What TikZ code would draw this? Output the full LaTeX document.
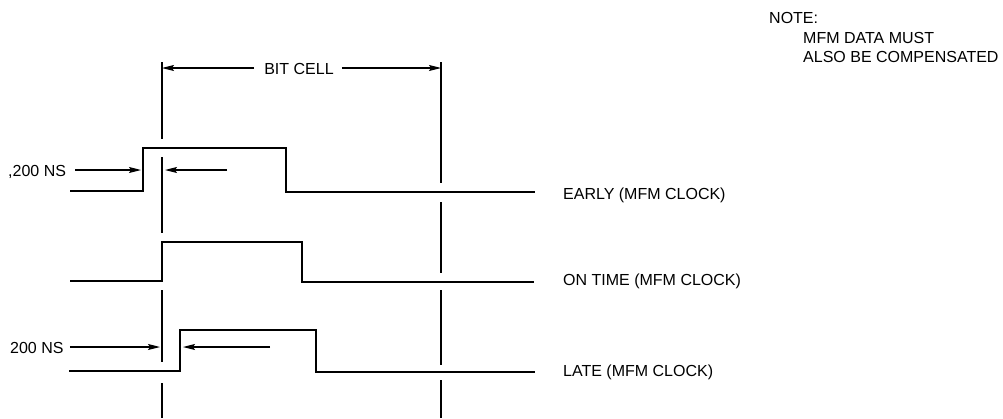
\documentclass[tikz,border=0pt]{standalone}
\usepackage{fontspec}
\setmainfont{Liberation Sans}
\usetikzlibrary{arrows.meta}
\begin{document}
\begin{tikzpicture}[x=1pt,y=-1pt,
  wave/.style={line width=2.6pt, line join=miter},
  guide/.style={line width=1.4pt},
  dim/.style={line width=1.1pt, -{Stealth[length=12pt,width=6pt,inset=2pt]}},
  lbl/.style={font=\fontsize{16}{18}\selectfont, inner sep=0pt, anchor=base west},
]
\useasboundingbox (0,0) rectangle (1003,418);

% note
\node[lbl] (note) at (769,23) {NOTE:};
\node[lbl] (note1) at (803,43) {MFM DATA MUST};
\node[lbl] (note2) at (803,62) {ALSO BE COMPENSATED};

% guide lines
\draw[guide] (162,62) -- (162,139) (162,157) -- (162,233) (162,290) -- (162,362) (162,383) -- (162,418);
\draw[guide] (441,62) -- (441,183) (441,202) -- (441,273) (441,290) -- (441,365) (441,380) -- (441,418);

% bit cell
\node[font=\fontsize{16}{18}\selectfont, inner sep=0pt, anchor=base] (bc) at (299,74) {BIT CELL};
\coordinate (bcl) at (162,68);
\coordinate (bcr) at (441,68);
\draw[dim] ([xshift=-10pt]bc.west |- bcl) -- (bcl);
\draw[dim] ([xshift=8pt]bc.east |- bcr) -- (bcr);

% waveforms
\draw[wave] (70,191) -- (143,191) -- (143,148) -- (286,148) -- (286,192) -- (535,192);
\draw[wave] (70,281) -- (162,281) -- (162,242) -- (302,242) -- (302,282) -- (534,282);
\draw[wave] (69,371) -- (180,371) -- (180,330) -- (316,330) -- (316,372) -- (535,372);

% labels
\node[lbl] (early) at (563,199) {EARLY (MFM CLOCK)};
\node[lbl] (ontime) at (563,285) {ON TIME (MFM CLOCK)};
\node[lbl] (late) at (563,376) {LATE (MFM CLOCK)};

% 200 ns early
\node[lbl] (ns1) at (8,176) {,200 NS};
\coordinate (e1) at (141,170);
\coordinate (e2s) at (227,170);
\coordinate (e2) at (165,170);
\draw[dim] ([xshift=9pt]ns1.east |- e1) -- (e1);
\draw[dim] (e2s) -- (e2);

% 200 ns late
\node[lbl] (ns2) at (10,353) {200 NS};
\coordinate (l1) at (160,347);
\coordinate (l2s) at (270,347);
\coordinate (l2) at (183,347);
\draw[dim] ([xshift=6pt]ns2.east |- l1) -- (l1);
\draw[dim] (l2s) -- (l2);
\end{tikzpicture}
\end{document}
